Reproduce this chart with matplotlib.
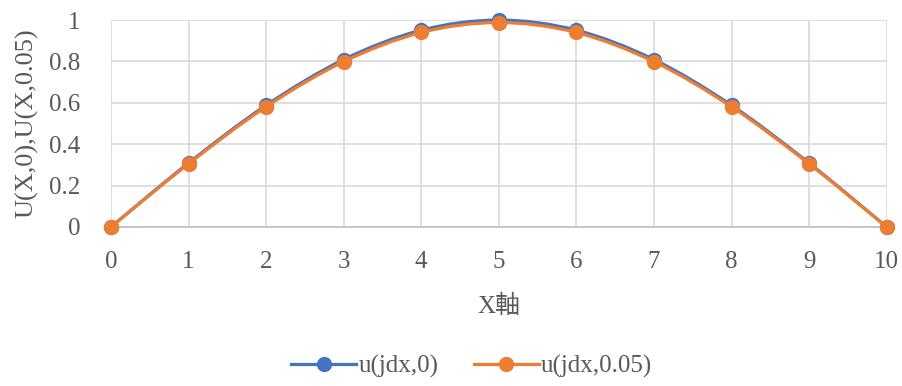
import numpy as np
import matplotlib.pyplot as plt
from matplotlib.path import Path
from matplotlib.patches import PathPatch
from matplotlib.lines import Line2D

plt.rcParams['font.family'] = ['Liberation Serif', 'Noto Sans CJK JP']

# grid points and the two solutions
x = [0, 1, 2, 3, 4, 5, 6, 7, 8, 9, 10]
u0 = [0, 0.309, 0.588, 0.809, 0.951, 1.0, 0.951, 0.809, 0.588, 0.309, 0]
u005 = [0, 0.305, 0.581, 0.799, 0.940, 0.988, 0.940, 0.799, 0.581, 0.305, 0]

yticks = [0, 0.2, 0.4, 0.6, 0.8, 1]
yticklabels = ['0', '0.2', '0.4', '0.6', '0.8', '1']

txt = '#595959'
blue = '#4472C4'
orange = '#ED7D31'


def smooth_path(xs, ys):
    # Catmull-Rom style bezier through the points (like a "smoothed line")
    p = np.column_stack([xs, ys]).astype(float)
    p = np.vstack([p[0], p, p[-1]])
    verts = [p[1]]
    codes = [Path.MOVETO]
    for i in range(1, len(p) - 2):
        c1 = p[i] + (p[i + 1] - p[i - 1]) / 6
        c2 = p[i + 1] - (p[i + 2] - p[i]) / 6
        verts += [c1, c2, p[i + 1]]
        codes += [Path.CURVE4] * 3
    return Path(verts, codes)


fig = plt.figure(figsize=(9.02, 3.86), dpi=100)
ax = fig.add_axes([0.123, 0.412, 0.860, 0.536])

for ys, c, z in [(u0, blue, 3), (u005, orange, 4)]:
    ax.add_patch(PathPatch(smooth_path(x, ys), fill=False, ec=c, lw=2.3,
                           capstyle='round', zorder=z, clip_on=False))
    ax.plot(x, ys, ls='none', color=c, marker='o', ms=10,
            clip_on=False, zorder=z)

ax.set_xlim(0, 10)
ax.set_ylim(0, 1)
ax.set_xticks(x)
ax.set_yticks(yticks)
ax.set_yticklabels(yticklabels)
ax.grid(True, color='#D9D9D9', lw=1.2)
ax.set_axisbelow(True)
for s in ['top', 'right', 'left']:
    ax.spines[s].set_visible(False)
ax.spines['bottom'].set_color('#BFBFBF')
ax.spines['bottom'].set_linewidth(1.2)
ax.tick_params(axis='x', length=0, labelsize=18, colors=txt, pad=17)
ax.tick_params(axis='y', length=0, labelsize=18, colors=txt, pad=22)

ax.set_xlabel('X軸', fontsize=18, color=txt, labelpad=16)
ax.set_ylabel('U(X,0),U(X,0.05)', fontsize=19, color=txt, labelpad=8)

handles = [Line2D([], [], color=blue, lw=2.3, marker='o', ms=10),
           Line2D([], [], color=orange, lw=2.3, marker='o', ms=10)]
fig.legend(handles, ['u(jdx,0)', 'u(jdx,0.05)'], loc='center',
           bbox_to_anchor=(0.523, 0.05), ncol=2, frameon=False,
           fontsize=18, labelcolor=txt, handlelength=2.6, handletextpad=0.1,
           columnspacing=1.4)

fig.savefig('out.png', dpi=100)
